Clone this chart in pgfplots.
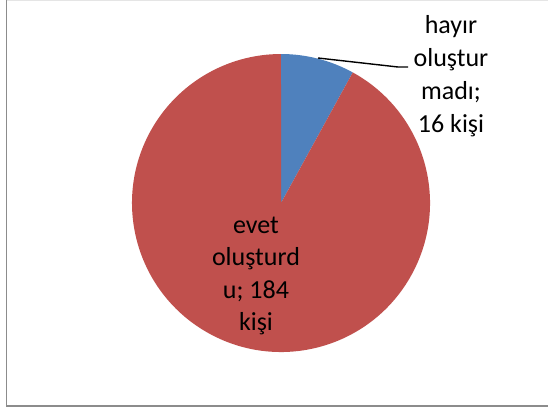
\documentclass[border=0pt]{standalone}
\usepackage{pgfplots}
\pgfplotsset{compat=1.18}
\usepackage{pgfplotstable}
\usepackage{fontspec}
\setmainfont{Carlito}
\definecolor{pieblue}{HTML}{4F81BD}
\definecolor{piered}{HTML}{C0504D}
\definecolor{frame}{HTML}{8C8C8C}
\pgfplotstableread{
label value
hayir 16
evet 184
}\piedata
\begin{document}
\begin{tikzpicture}[x=1bp,y=1bp]
\path[use as bounding box] (0,0) rectangle (548,410);
\pgfplotstablegetelem{0}{value}\of\piedata \edef\va{\pgfplotsretval}
\pgfplotstablegetelem{1}{value}\of\piedata \edef\vb{\pgfplotsretval}
\pgfmathsetmacro{\total}{\va+\vb}
\pgfmathsetmacro{\angA}{90-\va/\total*360}
\pgfmathsetmacro{\angB}{\angA-\vb/\total*360}
\begin{axis}[
  at={(0,0)}, anchor=south west,
  width=548bp, height=410bp, scale only axis,
  xmin=0, xmax=548, ymin=0, ymax=410,
  hide axis, clip=false,
]
\fill[pieblue] (axis cs:281,207) -- ++(90:149) arc[start angle=90, end angle=\angA, radius=149] -- cycle;
\fill[piered] (axis cs:281,207) -- ++(\angA:149) arc[start angle=\angA, end angle=\angB, radius=149] -- cycle;
\draw[black, line width=1.4bp] (axis cs:318,352) -- (axis cs:398,343) -- (axis cs:408,343);
\begin{scope}[every node/.style={anchor=base, inner sep=0pt, font=\fontsize{26bp}{32bp}\selectfont}]
\node at (axis cs:451,377) {hayır};
\node at (axis cs:451,344) {oluştur};
\node at (axis cs:451,311) {madı;};
\node at (axis cs:451,278) {16 kişi};
\node at (axis cs:256,177) {evet};
\node at (axis cs:256,144.5) {oluşturd};
\node at (axis cs:256,112) {u; 184};
\node at (axis cs:256,79.5) {kişi};
\end{scope}
\end{axis}
\draw[frame, line width=1.5bp] (548,4) -- (6.5,4) -- (6.5,410);
\draw[gray!20, line width=1bp] (6.5,409.5) -- (548,409.5);
\end{tikzpicture}
\end{document}
